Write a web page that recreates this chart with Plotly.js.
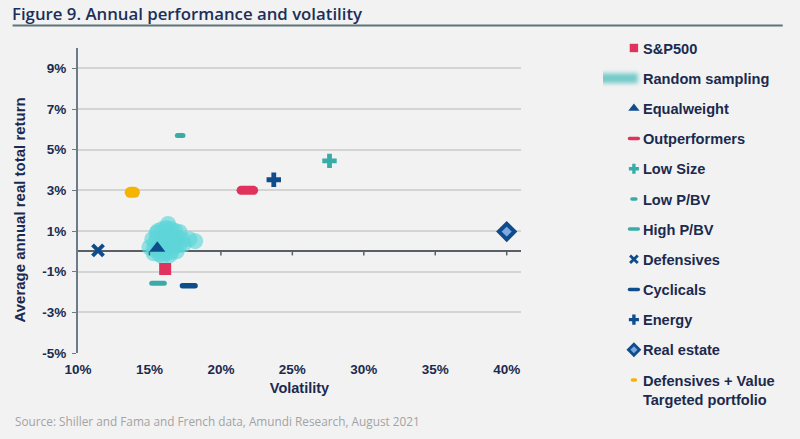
<!DOCTYPE html>
<html>
<head>
<meta charset="utf-8">
<script src="https://cdn.plot.ly/plotly-3.0.1.min.js"></script>
<style>
  html, body { margin: 0; padding: 0; background: #f2f2f2; }
  #chart { width: 800px; height: 439px; }
</style>
</head>
<body>
<div id="chart"></div>
<script>
// ---- Data (volatility %, average annual real total return %) ----
const seriesNames = ["S&P500", "Equalweight", "Outperformers", "Low Size", "Low P/BV",
  "High P/BV", "Defensives", "Cyclicals", "Energy", "Real estate", "Defensives + Value<br>Targeted portfolio"];
const volatility = [16.1, 15.55, 21.85, 27.6, 17.15, 15.6, 11.4, 17.75, 23.7, 40.0, 13.8];
const realReturn = [-0.87, 0.15, 3.0, 4.45, 5.7, -1.57, 0.05, -1.69, 3.52, 0.97, 2.9];

// Random sampling cloud (estimated points)
const randomVol = [15.0, 15.3, 15.6, 15.9, 16.2, 16.5, 16.8, 17.1, 17.4,
  15.2, 15.5, 15.8, 16.1, 16.4, 16.7, 17.0, 17.3,
  15.6, 15.9, 16.2, 16.5, 16.8, 17.1, 17.8, 18.2, 15.4, 16.0, 16.6,
  15.3, 15.7, 16.1, 16.5, 16.9, 16.3, 15.5, 15.9, 16.4];
const randomRet = [0.2, 0.1, 0.15, 0.2, 0.15, 0.2, 0.25, 0.3, 0.35,
  0.6, 0.65, 0.7, 0.7, 0.75, 0.7, 0.65, 0.6,
  1.0, 1.1, 1.15, 1.1, 1.0, 0.95, 0.6, 0.5, 0.4, 0.4, 0.45,
  -0.1, -0.15, -0.1, -0.05, 0.0, 1.35, 0.9, -0.25, -0.2];

const xTicks = [10, 15, 20, 25, 30, 35, 40];
const yTicks = [-5, -3, -1, 1, 3, 5, 7, 9];

// ---- Styles ----
const RED = "#e0325c", TEAL = "#3aaca8", NAVY = "#0f4c8c", YELLOW = "#f5b400";
const styles = [
  {symbol: "square", size: 12, color: RED},
  {symbol: "triangle-up", size: 14, color: NAVY},
  {symbol: "line-ew", size: 9, color: RED, lw: 9},
  {symbol: "cross", size: 12, color: TEAL},
  {symbol: "line-ew", size: 4, color: TEAL, lw: 5},
  {symbol: "line-ew", size: 9, color: TEAL, lw: 5},
  {symbol: "x-thin", size: 11, color: NAVY, lw: 4},
  {symbol: "line-ew", size: 9, color: NAVY, lw: 5.5},
  {symbol: "cross", size: 12, color: NAVY},
  {symbol: "diamond", size: 12, color: "#7ea8e0", lc: NAVY, lw: 4},
  {symbol: "line-ew", size: 3, color: YELLOW, lw: 11}
];

const traces = [];
traces.push({
  x: randomVol, y: randomRet, mode: "markers", type: "scatter", showlegend: false,
  hoverinfo: "skip", cliponaxis: false,
  marker: {symbol: "circle", size: 16, color: "#5ed6d8", opacity: 0.65, line: {width: 0}}
});

function pointTrace(i) {
  const s = styles[i];
  return {
    x: [volatility[i]], y: [realReturn[i]], name: seriesNames[i], legendgroup: "g" + i,
    mode: "markers", type: "scatter", hoverinfo: "skip",
    marker: {symbol: s.symbol, size: s.size, color: s.color,
      line: {width: s.lw || 0, color: s.lc || s.color}}
  };
}
traces.push(pointTrace(0));
traces.push({
  x: [null], y: [null], name: "Random sampling", legendgroup: "rs", mode: "lines", type: "scatter",
  line: {width: 14, color: "rgba(95,195,195,0.85)"}
});
for (let i = 1; i < seriesNames.length; i++) traces.push(pointTrace(i));

const TXT = "#1b2a4e";
const L = 77.5, R = 521, T = 48, B = 353;
const pw = R - L, ph = B - T;
const px = v => (v - L) / pw;
const py = v => (B - v) / ph;

// tick marks hanging from the zero line, one per x tick
const tickShapes = xTicks.slice(1).map(v => ({
  type: "line", xref: "x", yref: "y", x0: v, x1: v, y0: 0, y1: -0.2, layer: "above",
  line: {color: "#5a5f66", width: 1.5}
}));

const layout = {
  width: 800, height: 439,
  margin: {l: L, r: 800 - R, t: T, b: 439 - B, pad: 0},
  paper_bgcolor: "#f2f2f2", plot_bgcolor: "#f2f2f2",
  font: {family: "Liberation Sans, Arial, sans-serif", color: TXT},
  hovermode: false, dragmode: false,
  title: {
    text: "Figure 9. Annual performance and volatility",
    x: 12 / 800, xanchor: "left", xref: "container",
    y: 1 - 14 / 439, yanchor: "middle", yref: "container",
    font: {family: "Open Sans, sans-serif", size: 16.8, color: "#1b2f5b", weight: 600}
  },
  xaxis: {
    range: [10, 41], tickvals: xTicks, ticktext: xTicks.map(v => v + "%"),
    showgrid: false, zeroline: false, showline: false, ticks: "",
    ticklabelstandoff: 6, fixedrange: true,
    tickfont: {size: 13.5, weight: "bold", color: TXT},
    title: {text: "Volatility", font: {size: 14.5, weight: "bold", color: TXT}, standoff: 7}
  },
  yaxis: {
    range: [-5, 10], tickvals: yTicks, ticktext: yTicks.map(v => v + "%"),
    showgrid: true, gridcolor: "#d4d4d4", gridwidth: 1.5,
    zeroline: true, zerolinecolor: "#5a5f66", zerolinewidth: 2,
    showline: true, linecolor: "#6b7b8a", linewidth: 2,
    ticks: "outside", ticklen: 4, tickcolor: "#6b7b8a",
    ticklabelstandoff: 3, fixedrange: true,
    tickfont: {size: 13.5, weight: "bold", color: TXT}
  },
  legend: {
    x: px(603), xanchor: "left", y: py(32), yanchor: "top", maxheight: 439,
    bgcolor: "rgba(0,0,0,0)", traceorder: "grouped", tracegroupgap: 8.2, valign: "top",
    font: {size: 14.6, weight: "bold", color: TXT}, itemclick: false, itemdoubleclick: false
  },
  shapes: [{
    type: "line", xref: "paper", yref: "paper",
    x0: px(12), x1: px(783), y0: py(25.5), y1: py(25.5),
    line: {color: "#5f7478", width: 2}
  }].concat(tickShapes),
  annotations: [{
    text: "Source: Shiller and Fama and French data, Amundi Research, August 2021",
    xref: "paper", yref: "paper", x: px(12), y: py(421), xanchor: "left", yanchor: "middle",
    showarrow: false, font: {family: "Open Sans, sans-serif", size: 11.8, color: "#a3a3a3"}
  }, {
    text: "Average annual real total return", textangle: -90,
    xref: "paper", yref: "paper", x: px(18), y: py(210), xanchor: "center", yanchor: "middle",
    showarrow: false, font: {size: 15, weight: "bold", color: TXT}
  }],
  showlegend: true
};

Plotly.newPlot("chart", traces, layout, {displayModeBar: false}).then(() => {
  const NS = "http://www.w3.org/2000/svg";
  // rounded ends for the bar-shaped markers
  document.querySelectorAll("path").forEach(p => {
    const d = p.getAttribute("d") || "";
    if (/^M[\d.]+,0H-[\d.]+$/.test(d)) p.style.strokeLinecap = "round";
  });
  const svg = document.querySelector("svg.main-svg");
  let defs = svg.querySelector("defs");
  if (!defs) { defs = document.createElementNS(NS, "defs"); svg.insertBefore(defs, svg.firstChild); }
  const f = document.createElementNS(NS, "filter");
  f.setAttribute("id", "legblur");
  f.setAttribute("filterUnits", "userSpaceOnUse");
  f.setAttribute("x", "-40"); f.setAttribute("y", "-25");
  f.setAttribute("width", "110"); f.setAttribute("height", "50");
  const b = document.createElementNS(NS, "feGaussianBlur");
  b.setAttribute("stdDeviation", "2");
  f.appendChild(b);
  defs.appendChild(f);
  // legend symbols: smaller and nearer the text
  document.querySelectorAll(".legend .legendpoints").forEach(g => {
    g.setAttribute("transform", "translate(17,0) scale(0.7)");
  });
  document.querySelectorAll(".legend .legendlines path").forEach(p => {
    if (p.getAttribute("d")) { p.setAttribute("d", "M-5,0h40"); p.setAttribute("filter", "url(#legblur)"); }
  });
});
</script>
</body>
</html>
